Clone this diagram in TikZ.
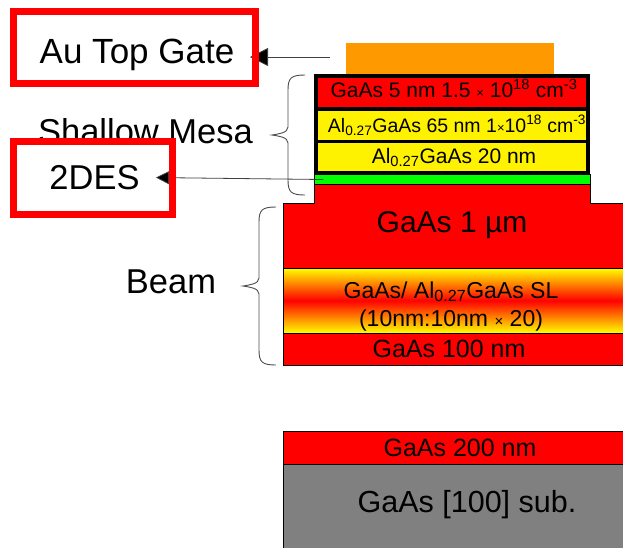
\documentclass[tikz,border=0pt]{standalone}
\usepackage{fontspec}
\setmainfont{Liberation Sans}
\usetikzlibrary{positioning,arrows.meta}
\newcommand{\fsize}[1]{\fontsize{#1}{#1}\selectfont}
\newcommand{\nudge}[1]{\hspace*{#1}}
\newcommand{\bracepath}[2]{(#1) .. controls +(-14,0) and +(0,-12) .. ++(-17,15) -- ++(0,#2) .. controls +(0,6) and +(6,-1) .. ++(-16,8) .. controls +(6,1) and +(0,-6) .. ++(16,8) -- ++(0,#2) .. controls +(0,12) and +(-14,0) .. ++(17,15)}
\definecolor{goldlayer}{RGB}{255,153,0}

\begin{document}
\begin{tikzpicture}[x=1pt,y=-1pt,node distance=0pt,
      layer node/.style={rectangle,inner sep=0pt,outer sep=0pt,align=center},
      thin layer/.style={layer node,draw=black,line width=.7pt},
      mesa layer/.style={layer node,draw=black,line width=3.5pt,minimum width=272pt},
      beam layer/.style={layer node,minimum width=342pt},
      side label/.style={inner sep=0pt,outer sep=0pt,font=\fsize{34.5}},
      red frame/.style={draw=red,line width=7pt},
      pointer/.style={-{Triangle[length=#1,width=#1,fill=black]},draw=black!75,line width=.8pt},
      curly/.style={draw=black!70,line width=.9pt}]
      \useasboundingbox (0,0) rectangle (623,547);

      % the stack, top to bottom
      \node[layer node,fill=goldlayer,minimum width=208pt,minimum height=31pt] (gold) at (450,58.5) {};
      \node[mesa layer,fill=red,minimum height=33pt,font=\fsize{21},text depth=8pt] (cap) at (452,92.5) {\nudge{4pt}GaAs 5 nm 1.5 {\fsize{13}×} 10\textsuperscript{18} cm\textsuperscript{-3}};
      \node[mesa layer,fill=yellow,minimum height=32.5pt,font=\fsize{19.5}] (barrier) [below=of cap] {\nudge{10pt}Al\textsubscript{0.27}GaAs 65 nm 1{\fsize{13}×}10\textsuperscript{18} cm\textsuperscript{-3}};
      \node[mesa layer,fill=yellow,minimum height=31.5pt,font=\fsize{21}] (spacer) [below=of barrier] {\nudge{4pt}Al\textsubscript{0.27}GaAs 20 nm};
      \node[layer node,fill=red,minimum width=276pt,minimum height=19pt] (mesa) at (452,193.5) {};
      \node[thin layer,fill=green,minimum width=276pt,minimum height=10pt] (well) [above=of mesa] {};
      \node[beam layer,fill=red,minimum height=65pt,font=\fsize{30},text depth=26pt] (thick) at (454,235.5) {\nudge{-4pt}GaAs 1 µm};
      \node[beam layer,thin layer,top color=yellow,bottom color=yellow,middle color=red,minimum height=65pt,font=\fsize{23}] (sl) [below=of thick] {\rule{0pt}{28pt}\nudge{-6pt}GaAs/ Al\textsubscript{0.27}GaAs SL\\[5pt]\nudge{-6pt}(10nm:10nm {\fsize{15}×} 20)};
      \node[beam layer,thin layer,fill=red,minimum height=32pt,font=\fsize{25}] (hundred) [below=of sl] {\nudge{-10pt}GaAs 100 nm};
      \node[beam layer,thin layer,fill=red,minimum height=33pt,font=\fsize{25}] (buffer) at (454,447.5) {\nudge{12pt}GaAs 200 nm};
      \node[beam layer,thin layer,fill=black!50,minimum height=86pt,font=\fsize{30.5},text depth=12pt] (sub) [below=of buffer] {\nudge{26pt}GaAs [100] sub.};
      \draw[black,line width=.7pt] (mesa.north west) -- (mesa.south west) -- (thick.north west) -- (thick.south west);
      \draw[black,line width=.7pt] (mesa.north east) -- (mesa.south east) -- (thick.north east);

      % labels
      \node[side label] (mesalabel) at (145.5,131) {Shallow Mesa};
      \node[side label] (beamlabel) at (171,282) {Beam};
      \node[side label,font=\fsize{35},minimum width=242pt,minimum height=72pt,text height=40pt,text depth=7pt] (au) at (134.5,47) {\nudge{5pt}Au Top Gate};
      \node[side label,fill=white,minimum width=159pt,minimum height=72.5pt] (des) at (93,177.75) {\nudge{3pt}2DES};

      \coordinate (aufrom) at (330,57);
      \coordinate (desfrom) at (323,179.5);
      \coordinate (mesatop) at (305,75);
      \coordinate (beamtop) at (276,207);

      \draw[pointer=18pt,shorten >=-5.5pt] (aufrom) -- (aufrom -| au.east);
      \draw[pointer=13pt,shorten >=-16.5pt] (desfrom) -- (des.east);
      \draw[red frame] (au.north west) rectangle (au.south east);
      \draw[red frame] (des.north west) rectangle (des.south east);

      \draw[curly] \bracepath{mesatop}{37};
      \draw[curly] \bracepath{beamtop}{56};
    \end{tikzpicture}
\end{document}
